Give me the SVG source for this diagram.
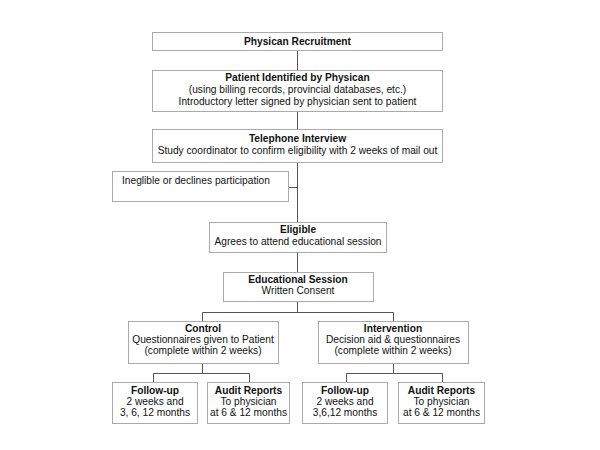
<svg xmlns="http://www.w3.org/2000/svg" width="600" height="450" viewBox="0 0 600 450">
<style>
rect.box{fill:#fff;stroke:#aaa;stroke-width:1}
text{font-family:"Liberation Sans",Arial,sans-serif;font-size:10.2px;fill:#111;text-anchor:middle}
text.b{font-weight:bold}
.conn path{fill:none;stroke:#555;stroke-width:1}
</style>
<rect width="600" height="450" fill="#fff"/>
<g class="conn">
<path d="M297.5 50V70M297.5 111V129M297.5 162V222M288 187.5H297.5M297.5 252V272M297.5 301V312.5M202.5 312.5H393.5M202.5 312.5V321M393.5 312.5V321"/>
<path d="M202.5 363V373.5M153.5 373.5H249.5M153.5 373.5V382M249.5 373.5V382"/>
<path d="M393.5 363V373.5M346.5 373.5H442.5M346.5 373.5V382M442.5 373.5V382"/>
</g>
<g id="recruit"><rect class="box" x="152.5" y="32.5" width="290" height="18"/><text class="b" x="297.5" y="44.5">Physican Recruitment</text></g>
<g id="patient"><rect class="box" x="152.5" y="70.5" width="290" height="41"/><text class="b" x="297.5" y="81">Patient Identified by Physican</text><text x="297.5" y="93">(using billing records, provincial databases, etc.)</text><text x="297.5" y="105">Introductory letter signed by physician sent to patient</text></g>
<g id="phone"><rect class="box" x="152.5" y="129.5" width="290" height="33"/><text class="b" x="297.5" y="142">Telephone Interview</text><text x="297.5" y="154">Study coordinator to confirm eligibility with 2 weeks of mail out</text></g>
<g id="ineligible"><rect class="box" x="112.5" y="171.5" width="176" height="30"/><text x="122" y="184" style="text-anchor:start">Ineglible or declines participation</text></g>
<g id="eligible"><rect class="box" x="209.5" y="222.5" width="177" height="30"/><text class="b" x="298" y="233">Eligible</text><text x="298" y="245">Agrees to attend educational session</text></g>
<g id="education"><rect class="box" x="223.5" y="272.5" width="150" height="29"/><text class="b" x="298" y="283">Educational Session</text><text x="298" y="294">Written Consent</text></g>
<g id="control"><rect class="box" x="128.5" y="321.5" width="150" height="42"/><text class="b" x="203" y="332">Control</text><text x="203" y="343">Questionnaires given to Patient</text><text x="203" y="354">(complete within 2 weeks)</text></g>
<g id="intervention"><rect class="box" x="318.5" y="321.5" width="150" height="42"/><text class="b" x="393" y="332">Intervention</text><text x="393" y="343">Decision aid &amp; questionnaires</text><text x="393" y="354">(complete within 2 weeks)</text></g>
<g id="followup1"><rect class="box" x="112.5" y="382.5" width="85" height="41"/><text class="b" x="155" y="394">Follow-up</text><text x="155" y="405">2 weeks and</text><text x="155" y="416">3, 6, 12 months</text></g>
<g id="audit1"><rect class="box" x="207.5" y="382.5" width="82" height="41"/><text class="b" x="248.5" y="394">Audit Reports</text><text x="248.5" y="405">To physician</text><text x="248.5" y="416">at 6 &amp; 12 months</text></g>
<g id="followup2"><rect class="box" x="302.5" y="382.5" width="85" height="41"/><text class="b" x="345" y="394">Follow-up</text><text x="345" y="405">2 weeks and</text><text x="345" y="416">3,6,12 months</text></g>
<g id="audit2"><rect class="box" x="398.5" y="382.5" width="86" height="41"/><text class="b" x="441.5" y="394">Audit Reports</text><text x="441.5" y="405">To physician</text><text x="441.5" y="416">at 6 &amp; 12 months</text></g>
</svg>
